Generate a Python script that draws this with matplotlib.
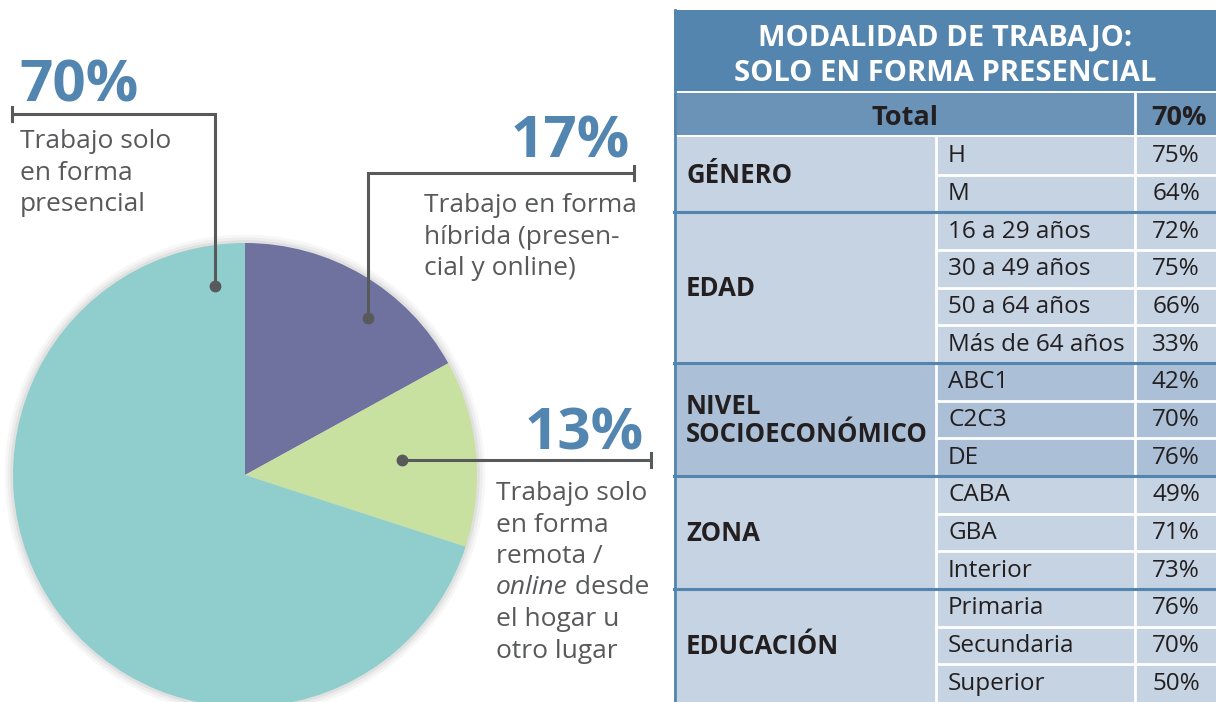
import matplotlib.pyplot as plt
from matplotlib.patches import Rectangle, Circle

plt.rcParams['font.family'] = ['Open Sans', 'DejaVu Sans']

# ---- pie data ----
shares = [17, 13, 70]
share_labels = ["17%", "13%", "70%"]
pie_colors = ["#6f729e", "#c8e0a0", "#8fcecc"]
text_70 = ["Trabajo solo", "en forma", "presencial"]
text_17 = ["Trabajo en forma", "híbrida (presen-", "cial y online)"]
text_13 = ["Trabajo solo", "en forma", "remota /", "online| desde", "el hogar u", "otro lugar"]

# ---- table data ----
table_title = ["MODALIDAD DE TRABAJO:", "SOLO EN FORMA PRESENCIAL"]
total_value = 70
groups = ["GÉNERO", "EDAD", "NIVEL\nSOCIOECONÓMICO", "ZONA", "EDUCACIÓN"]
group_items = [
    ["H", "M"],
    ["16 a 29 años", "30 a 49 años", "50 a 64 años", "Más de 64 años"],
    ["ABC1", "C2C3", "DE"],
    ["CABA", "GBA", "Interior"],
    ["Primaria", "Secundaria", "Superior"],
]
group_values = [
    [75, 64],
    [72, 75, 66, 33],
    [42, 70, 76],
    [49, 71, 73],
    [76, 70, 50],
]

W, H = 1216, 702
fig = plt.figure(figsize=(W / 100, H / 100), dpi=100)
fig.patch.set_facecolor("white")

# pie axes: center (245, 475) px, radius 232 px
cx, cy, r = 245, 475, 232
pax = fig.add_axes([(cx - r * 1.1) / W, (H - cy - r * 1.1) / H, 2.2 * r / W, 2.2 * r / H])
# soft shadow
for k, a in enumerate([0.05, 0.04, 0.03]):
    pax.add_patch(Circle((0.0, 0.0), 1.0 + 0.012 * (k + 1), color="#000000", alpha=a, lw=0, zorder=0))
pax.pie(shares, colors=pie_colors, startangle=90, counterclock=False, radius=1.0,
        wedgeprops=dict(linewidth=0), center=(0, 0))
pax.set_xlim(-1.1, 1.1)
pax.set_ylim(-1.1, 1.1)
pax.set_aspect("equal")
pax.axis("off")

ax = fig.add_axes([0, 0, 1, 1])
ax.set_xlim(0, W)
ax.set_ylim(H, 0)
ax.axis("off")
ax.patch.set_alpha(0)

lead = "#58595b"
blue = "#5285b0"
gray_txt = "#58595b"
lw = 2.2


def leader(xs, ys, tick_x, tick_y, dot):
    ax.plot(xs, ys, color=lead, lw=lw, solid_capstyle="butt", solid_joinstyle="miter")
    ax.plot([tick_x, tick_x], [tick_y - 7, tick_y + 7], color=lead, lw=lw)
    ax.plot([dot[0]], [dot[1]], "o", color=lead, ms=7.5)


leader([12, 215, 215], [114, 114, 286], 12, 114, (215, 286))
leader([634, 368, 368], [173, 173, 318], 634, 173, (368, 318))
leader([402, 651], [460, 460], 651, 460, (402, 460))

big = dict(fontsize=42, fontweight="bold", color=blue, va="baseline")
ax.text(19, 102, share_labels[2], ha="left", **big)
ax.text(630, 157, share_labels[0], ha="right", **big)
ax.text(644, 449, share_labels[1], ha="right", **big)

FS = 19
lab = dict(fontsize=FS, color=gray_txt, va="baseline", ha="left")


def lines(x, y0, rows, step=31.5):
    for i, s in enumerate(rows):
        y = y0 + i * step
        if "|" in s:
            a, b = s.split("|")
            t = ax.text(x, y, a, style="italic", **lab)
            ax.annotate(b, xy=(1, 0), xycoords=t, fontsize=FS, color=gray_txt,
                        va="bottom", ha="left")
        else:
            ax.text(x, y, s, **lab)


lines(20, 148, text_70)
lines(424, 212, text_17)
lines(496, 500, text_13)

# ---- table ----
x0, x1, x2, x3 = 674, 936, 1135, 1222
title_bg = "#5485ae"
total_bg = "#6b93b8"
row_bg = "#c5d3e2"
nse_bg = "#abbfd6"
dark = "#231f20"

ax.add_patch(Rectangle((x0, 10), x3 - x0, 81, color=title_bg, lw=0))
for i, s in enumerate(table_title):
    ax.text((x0 + 1216) / 2, 46 + 35 * i, s, ha="center", va="baseline", color="white",
            fontsize=21, fontweight="bold")
ax.add_patch(Rectangle((x0, 93), x3 - x0, 42, color=total_bg, lw=0))
ax.plot([x2, x2], [93, 135], color="white", lw=2)
ax.text((x0 + x2) / 2, 125, "Total", ha="center", va="baseline", color=dark,
        fontsize=19.5, fontweight="bold")
ax.text(1207, 125, f"{total_value}%", ha="right", va="baseline", color=dark,
        fontsize=19.5, fontweight="bold")

row_h = (H - 137) / sum(len(g) for g in group_items)
y = 137
for gi, (g, items, vals) in enumerate(zip(groups, group_items, group_values)):
    n = len(items)
    bg = nse_bg if gi == 2 else row_bg
    ax.add_patch(Rectangle((x0, y), x3 - x0, n * row_h, color=bg, lw=0))
    ax.text(686, y + n * row_h / 2 + 1, g, ha="left", va="center", color=dark,
            fontsize=18.5, fontweight="bold", linespacing=1.05)
    for j, (it, v) in enumerate(zip(items, vals)):
        yy = y + j * row_h
        ax.text(948, yy + row_h / 2 + 6.5, it, ha="left", va="baseline", color=dark, fontsize=17.5)
        ax.text(1200, yy + row_h / 2 + 6.5, f"{v}%", ha="right", va="baseline", color=dark, fontsize=17.5)
        if j > 0:
            ax.plot([x1, x3], [yy, yy], color="white", lw=2)
    ax.plot([x1, x1], [y, y + n * row_h], color="white", lw=2)
    ax.plot([x2, x2], [y, y + n * row_h], color="white", lw=2)
    if gi > 0:
        ax.plot([x0, x3], [y, y], color=title_bg, lw=2.2)
    y += n * row_h
ax.plot([x0 + 1, x0 + 1], [10, H], color=title_bg, lw=2)

fig.savefig("out.png", dpi=100, facecolor="white")
